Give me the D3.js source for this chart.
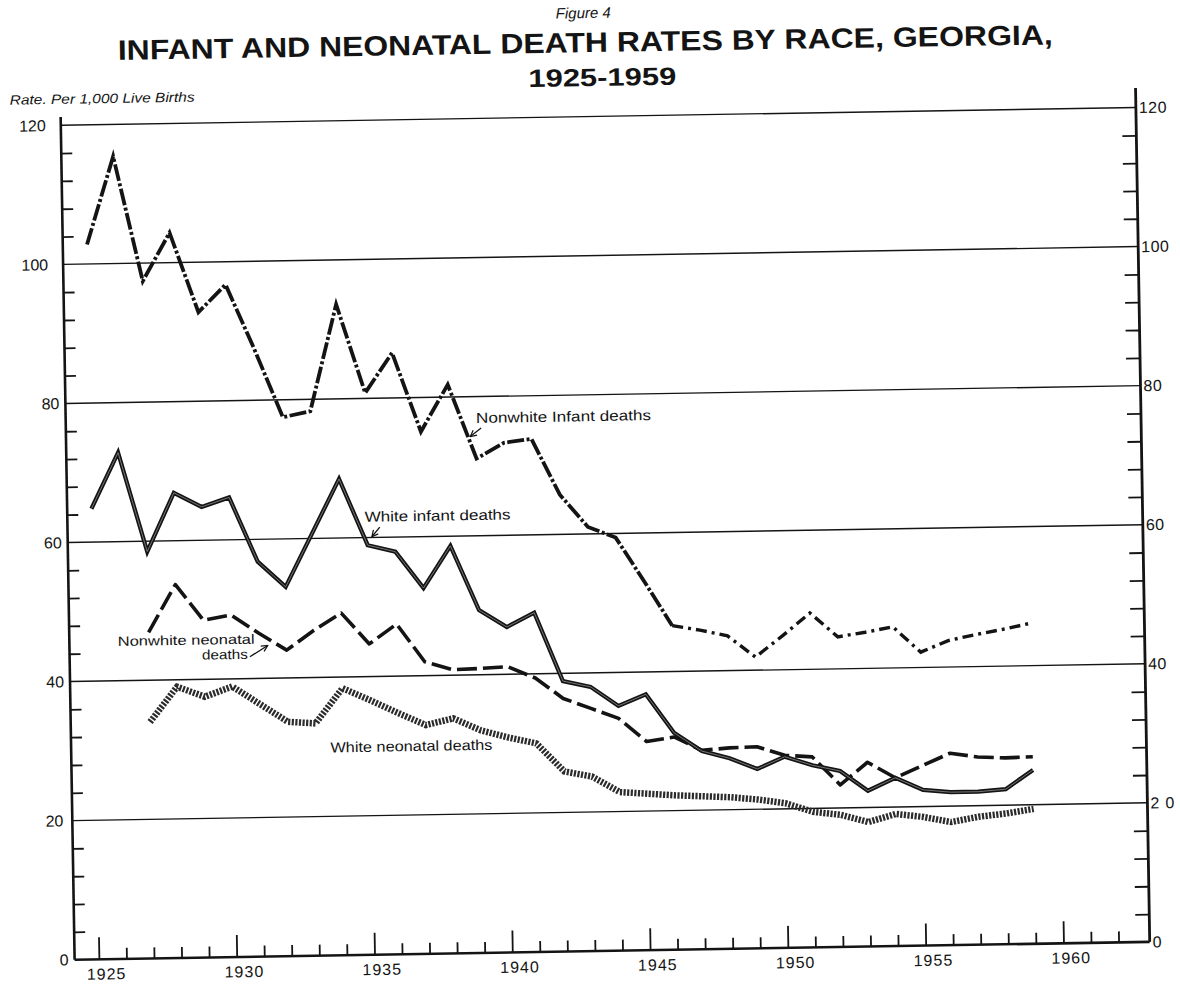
<!DOCTYPE html>
<html><head><meta charset="utf-8">
<script src="https://cdn.jsdelivr.net/npm/d3@7/dist/d3.min.js"></script>
<style>body{margin:0;background:#fff}svg{display:block}</style>
</head><body>
<svg id="chart" width="1180" height="984"></svg>
<script>
// ---- data (rates per 1,000 live births) ----
const infantYears = [1925,1926,1927,1928,1929,1930,1931,1932,1933,1934,1935,1936,1937,1938,1939,1940,1941,1942,1943,1944,1945,1946,1947,1948,1949,1950,1951,1952,1953,1954,1955,1956,1957,1958,1959];
const neonatalYears = [1927,1928,1929,1930,1931,1932,1933,1934,1935,1936,1937,1938,1939,1940,1941,1942,1943,1944,1945,1946,1947,1948,1949,1950,1951,1952,1953,1954,1955,1956,1957,1958,1959];
const nonwhiteInfant = [102.8,115.4,97.4,104.3,92.8,96.7,87.4,77.5,78.3,93.6,80.8,86.5,75.1,81.8,71.1,73.3,73.8,65.7,61.0,59.4,53.1,46.6,45.9,45.0,41.9,44.9,48.1,44.6,45.2,45.9,42.2,43.8,44.6,45.3,46.1];
const whiteInfant = [64.8,72.8,58.5,66.9,64.8,66.1,56.8,53.1,60.8,68.5,58.9,57.9,52.6,58.6,49.3,46.8,48.8,38.9,38.0,35.2,36.8,31.2,28.5,27.4,25.8,27.5,26.2,25.3,22.4,24.2,22.4,22.0,22.0,22.3,25.0];
const nonwhiteNeonatal = [46.9,53.7,48.5,49.2,46.5,44.0,46.8,49.2,44.7,47.5,42.0,40.8,40.9,41.1,39.4,36.4,34.9,33.4,30.0,30.6,28.6,28.9,29.0,27.7,27.4,23.3,26.5,24.2,25.9,27.6,27.0,26.8,26.9];
const whiteNeonatal = [34.0,39.0,37.5,38.9,36.3,33.7,33.4,38.4,36.6,34.7,32.9,33.8,32.0,30.9,30.0,25.9,25.1,22.8,22.5,22.2,22.0,21.8,21.4,20.8,19.5,19.0,17.9,19.0,18.5,17.7,18.4,18.8,19.4];
const yLabels = [0,20,40,60,80,100,120];
const yMinor = [4,8,12,16,24,28,32,36,44,48,52,56,64,68,72,76,84,88,92,96,104,108,112,116];
const xLabels = [1925,1930,1935,1940,1945,1950,1955,1960];
const xTickYears = [1925,1926,1927,1928,1929,1930,1931,1932,1933,1934,1935,1936,1937,1938,1939,1940,1941,1942,1943,1944,1945,1946,1947,1948,1949,1950,1951,1952,1953,1954,1955,1956,1957,1958,1959,1960,1961,1962];
const titleText = "INFANT AND NEONATAL DEATH RATES BY RACE, GEORGIA,";

const FONT = "'Liberation Sans', Arial, sans-serif";
const INK = "#141414";

const svg = d3.select("#chart");
const g = svg.append("g").attr("transform", "rotate(-0.95 596 540)");

const x = d3.scaleLinear().domain([1925, 1960]).range([92, 1056.7]);
const y = d3.scaleLinear().domain([0, 120]).range([951, 116.5]);
const xL = x(1924.12), xR = x(1963.13);

// gridlines
g.append("g").selectAll("line").data(yLabels.filter(v => v > 0)).join("line")
  .attr("x1", xL).attr("x2", xR).attr("y1", d => y(d)).attr("y2", d => y(d))
  .attr("stroke", INK).attr("stroke-width", 1.4);

// axis lines
g.append("line").attr("x1", xL).attr("x2", xL).attr("y1", y(0)).attr("y2", y(121.2)).attr("stroke", INK).attr("stroke-width", 2.6);
g.append("line").attr("x1", xR).attr("x2", xR).attr("y1", y(0)).attr("y2", y(122.8)).attr("stroke", INK).attr("stroke-width", 2.8);
g.append("line").attr("x1", xL).attr("x2", xR).attr("y1", y(0)).attr("y2", y(0)).attr("stroke", INK).attr("stroke-width", 2.6);

function styleAxis(sel) {
  sel.select(".domain").remove();
  sel.selectAll(".tick line").attr("stroke", INK).attr("stroke-width", 1.8);
  sel.selectAll("text").attr("font-family", FONT).attr("fill", INK);
}

// left axis minor ticks (inside) and labels
g.append("g").attr("transform", `translate(${xL},0)`)
  .call(d3.axisRight(y).tickValues(yMinor).tickSize(11).tickFormat(""))
  .call(styleAxis);
g.append("g").attr("transform", `translate(${xL - 3},0)`)
  .call(d3.axisLeft(y).tickValues(yLabels).tickSize(0).tickPadding(3).tickFormat(d3.format("d")))
  .call(styleAxis)
  .call(s => s.selectAll("text").attr("font-size", 16)
    .attr("dx", d => d >= 100 ? -9 : (d === 20 ? -3 : 0)));

// right axis minor ticks (inside) and labels
g.append("g").attr("transform", `translate(${xR},0)`)
  .call(d3.axisLeft(y).tickValues(yMinor).tickSize(14).tickFormat(""))
  .call(styleAxis);
g.append("g").attr("transform", `translate(${xR + 1},0)`)
  .call(d3.axisRight(y).tickValues(yLabels).tickSize(0).tickPadding(2).tickFormat(d3.format("d")))
  .call(styleAxis)
  .call(s => s.selectAll("text").attr("font-size", 16)
    .attr("letter-spacing", d => d === 20 ? 6 : 0.5));

// bottom axis ticks (inside, pointing up)
g.append("g").attr("transform", `translate(0,${y(0)})`)
  .call(d3.axisTop(x).tickValues(xTickYears.filter(v => v % 5 !== 0)).tickSize(11).tickFormat(""))
  .call(styleAxis);
g.append("g").attr("transform", `translate(0,${y(0)})`)
  .call(d3.axisTop(x).tickValues(xTickYears.filter(v => v % 5 === 0)).tickSize(22).tickFormat(""))
  .call(styleAxis);
g.append("g").attr("transform", `translate(7,${y(0)})`)
  .call(d3.axisBottom(x).tickValues(xLabels).tickSize(0).tickPadding(9).tickFormat(d3.format("d")))
  .call(styleAxis)
  .call(s => s.selectAll("text").attr("font-size", 16).attr("letter-spacing", 1));

// ---- series ----
const line = d3.line().x(d => x(d[0])).y(d => y(d[1]));
const zip = (ys, vs) => ys.map((yr, i) => [yr, vs[i]]);

const wn = zip(neonatalYears, whiteNeonatal);
g.append("path").attr("d", line(wn)).attr("fill", "none").attr("stroke", "#2b2b2b")
  .attr("stroke-width", 6.5).attr("stroke-dasharray", "2.2,1.4");

const nn = zip(neonatalYears, nonwhiteNeonatal);
g.append("path").attr("d", line(nn)).attr("fill", "none").attr("stroke", INK)
  .attr("stroke-width", 3.6).attr("stroke-dasharray", "20,6").attr("stroke-linejoin", "round");

const wi = zip(infantYears, whiteInfant);
g.append("path").attr("d", line(wi)).attr("fill", "none").attr("stroke", INK)
  .attr("stroke-width", 4.2).attr("stroke-linejoin", "miter");
g.append("path").attr("d", line(wi)).attr("fill", "none").attr("stroke", "#808080")
  .attr("stroke-width", 0.9);

// nonwhite infant: heavy dash-dot, denser before 1946, more open afterwards
const nwi = zip(infantYears, nonwhiteInfant);
g.append("path").attr("d", line(nwi.filter(d => d[0] <= 1946))).attr("fill", "none").attr("stroke", INK)
  .attr("stroke-width", 3.8).attr("stroke-dasharray", "17,2.5,3,2.5");
g.append("path").attr("d", line(nwi.filter(d => d[0] >= 1946))).attr("fill", "none").attr("stroke", INK)
  .attr("stroke-width", 3.4).attr("stroke-dasharray", "11,5,3,5");

// ---- titles ----
g.append("text").attr("x", 592).attr("y", 18).attr("text-anchor", "middle")
  .attr("font-family", FONT).attr("font-style", "italic").attr("font-size", 15).attr("fill", INK)
  .text("Figure 4");

// main title: laid out word by word (same overall span as one line)
(function () {
  const tx = 126, ty = 52, span = 935, fs = 28;
  const probe = g.append("text").attr("font-family", FONT).attr("font-weight", 700)
    .attr("font-size", fs).attr("x", 0).attr("y", -100).text(titleText);
  const node = probe.node();
  const total = node.getComputedTextLength();
  const k = span / total;
  let idx = 0;
  const words = titleText.split(" ");
  const placed = words.map(w => {
    const start = titleText.indexOf(w, idx);
    idx = start + w.length;
    const off = start > 0 ? node.getSubStringLength(0, start) : 0;
    const wl = node.getSubStringLength(start, w.length);
    return { w, off, wl };
  });
  probe.remove();
  g.append("g").selectAll("text").data(placed).join("text")
    .attr("x", d => tx + d.off * k).attr("y", ty)
    .attr("font-family", FONT).attr("font-weight", 700).attr("font-size", fs).attr("fill", INK)
    .attr("textLength", d => d.wl * k).attr("lengthAdjust", "spacingAndGlyphs")
    .text(d => d.w);
})();

g.append("text").attr("x", 610).attr("y", 86).attr("text-anchor", "middle")
  .attr("font-family", FONT).attr("font-weight", 700).attr("font-size", 25).attr("fill", INK)
  .attr("textLength", 148).attr("lengthAdjust", "spacingAndGlyphs")
  .text("1925-1959");
g.append("text").attr("x", 17).attr("y", 95)
  .attr("font-family", FONT).attr("font-style", "italic").attr("font-size", 13.5).attr("fill", INK)
  .attr("textLength", 185).attr("lengthAdjust", "spacingAndGlyphs")
  .text("Rate. Per 1,000 Live Births");

// ---- series labels ----
function label(txt, lx, ly, len, fs) {
  g.append("text").attr("x", lx).attr("y", ly).attr("font-family", FONT)
    .attr("font-size", fs || 14.5).attr("fill", INK)
    .attr("textLength", len).attr("lengthAdjust", "spacingAndGlyphs").text(txt);
}
label("Nonwhite  Infant deaths", 478, 421, 175);
label("White infant  deaths", 365, 518, 146);
label("Nonwhite  neonatal", 116, 638, 137, 13.5);
label("deaths", 200, 653, 46, 13.5);
label("White neonatal deaths", 327, 748, 162);

// arrows
svg.append("defs").append("marker").attr("id", "ah").attr("viewBox", "0 0 10 10")
  .attr("refX", 9).attr("refY", 5).attr("markerWidth", 6).attr("markerHeight", 6)
  .attr("orient", "auto").append("path").attr("d", "M1,1 L9,5 L1,9").attr("fill", "none")
  .attr("stroke", INK).attr("stroke-width", 1.6);
const arrows = [[483, 426, 472, 434.5], [380, 523.5, 372, 533], [248, 651, 266, 640]];
g.append("g").selectAll("line").data(arrows).join("line")
  .attr("x1", d => d[0]).attr("y1", d => d[1]).attr("x2", d => d[2]).attr("y2", d => d[3])
  .attr("stroke", INK).attr("stroke-width", 1.3).attr("marker-end", "url(#ah)");
</script>
</body></html>
